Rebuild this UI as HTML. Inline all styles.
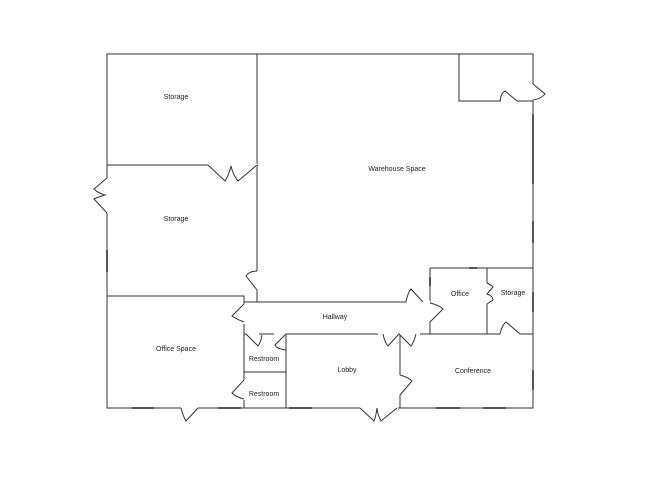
<!DOCTYPE html><html><head><style>body{margin:0;background:#fff}svg{display:block}text{font-family:"Liberation Sans",sans-serif;font-size:7px;fill:#222;text-anchor:middle}</style></head><body>
<svg width="650" height="502" viewBox="0 0 650 502" fill="none" stroke="#333" stroke-width="1">
<g>
<path d="M107,54H533V408H107Z M107,165H257 M257,54V302 M107,296H244V408 M244,302H430 M244,334H533 M459,54V101H533 M430,268H533 M430,268V334 M487,268V334 M244,372H286 M286,334V408 M400,334V408"/>
</g>
<g stroke="#fff" stroke-width="3">
<path d="M501,101H517 M533,84V100 M208,165H257 M107,178V213 M257,271V290 M406,302H430 M430,303V322 M244,304V324 M487,283V304 M500,334H520 M246,334H259 M274,334H286 M378,334H420 M400,375V395 M244,380V400 M181,408H198 M360,408H398"/>
</g>
<g>
<path d="M500,101Q501,93 505,91L517,101"/>
<path d="M533,84L545,94Q541,99 533,100"/>
<path d="M208,165L225,181Q229,175 231,166Q233,175 238,181L257,165"/>
<path d="M107,178L94,189Q98,193 105,195Q98,197 94,199L107,213"/>
<path d="M257,271Q249,271 246,276L257,290"/>
<path d="M406,302Q408,292 411,289L423,302"/>
<path d="M430,303Q439,305 443,309L430,322"/>
<path d="M244,304L232,316Q236,319 244,322"/>
<path d="M487,283Q491,285 493,287L487,294Q493,296 493,300L487,304"/>
<path d="M500,334Q502,325 506,322L520,334"/>
<path d="M246,334L258,346Q261,342 262,335"/>
<path d="M286,334L275,345Q277,349 286,350"/>
<path d="M383,334Q385,343 388,346L399,334L411,346Q414,342 416,334"/>
<path d="M400,375Q408,377 412,381L400,395"/>
<path d="M244,380L232,393Q236,397 244,399"/>
<path d="M181,408Q183,416 186,421L198,408"/>
<path d="M360,408L374,421Q376,416 377,408Q378,416 381,421L397,408"/>
</g>
<g stroke="#555" stroke-width="2">
<path d="M107,250V272 M533,114V184 M533,221V243 M533,292V312 M533,370V390 M132,408H154 M218,408H241 M289,408H312 M436,408H460 M483,408H506 M469,268H477 M430,277V286"/>
</g>
<g stroke="none">
<text x="176" y="99">Storage</text>
<text x="176" y="221">Storage</text>
<text x="397" y="171">Warehouse Space</text>
<text x="460" y="296">Office</text>
<text x="513" y="295">Storage</text>
<text x="335" y="319">Hallway</text>
<text x="176" y="351">Office Space</text>
<text x="264" y="361">Restroom</text>
<text x="264" y="396">Restroom</text>
<text x="347" y="372">Lobby</text>
<text x="473" y="373">Conference</text>
</g>
</svg></body></html>
